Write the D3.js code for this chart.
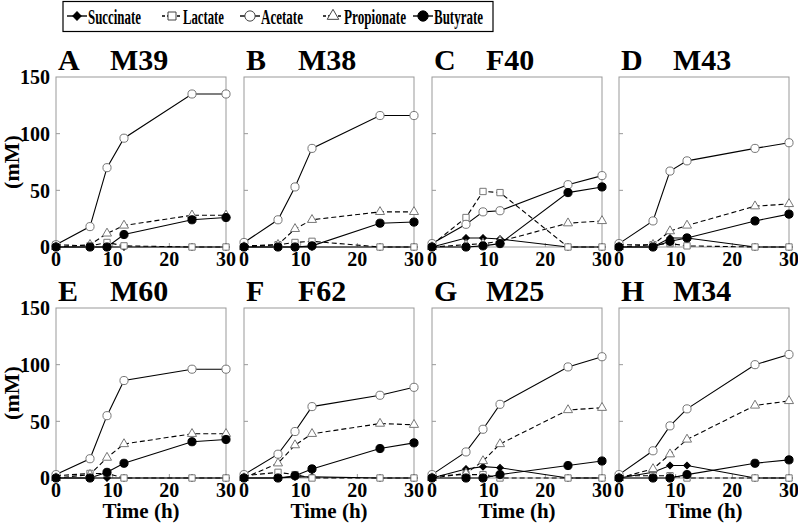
<!DOCTYPE html>
<html><head><meta charset="utf-8">
<script src="https://cdn.jsdelivr.net/npm/d3@7"></script>
<style>
body{margin:0;background:#fff;}
svg{display:block;}
text{font-family:"Liberation Serif","Times New Roman",serif;font-weight:bold;fill:#000;}
</style></head><body>
<svg id="c" width="798" height="525"></svg>
<script>
const times = [0, 6, 9, 12, 24, 30];
const panelLetters = ["A","B","C","D","E","F","G","H"];
const panelNames = ["M39","M38","F40","M43","M60","F62","M25","M34"];
const seriesNames = ["Succinate","Lactate","Acetate","Propionate","Butyrate"];
const yTicks = [0, 50, 100, 150];
const xTicks = [0, 10, 20, 30];

const succinate = [
  [0,0,0,0,0,0],[0,0,0,0,0,0],[0,8,8,7,0,0],[0,0,8,8,0,0],
  [0,0,0,0,0,0],[0,0,1,1,0,0],[0,8,10,9,0,0],[0,5,11,11,0,0]];
const lactate = [
  [2,1,4,1,0,0],[1,2,4,5,0,0],[2,26,49,48,0,0],[2,2,3,1,0,0],
  [2,4,4,0,0,0],[2,5,3,0,0,0],[2,3,3,0,0,0],[2,2,2,0,0,0]];
const acetate = [
  [2,18,70,96,135,135],[4,24,53,87,116,116],[3,20,31,32,55,63],[3,23,67,76,87,92],
  [3,17,55,86,96,96],[3,21,41,63,73,80],[3,23,43,65,98,107],[3,24,46,61,100,109]];
const propionate = [
  [0,2,12,19,28,28],[0,2,16,24,31,31],[0,2,3,5,21,23],[0,2,14,19,36,38],
  [0,3,18,30,39,39],[0,13,29,39,48,47],[0,4,15,30,60,62],[0,8,21,34,64,68]];
const butyrate = [
  [0,0,0,11,24,26],[0,0,0,1,21,22],[0,0,1,3,48,53],[0,0,5,8,23,29],
  [0,0,5,13,32,34],[0,0,2,8,26,31],[0,0,0,3,11,15],[0,0,0,3,13,16]];

const seriesData = [succinate, lactate, acetate, propionate, butyrate];
const styles = [
  {dash:null, sym:d3.symbolSquare, rot:45, size:22, fill:"#000", stroke:"#000"},
  {dash:"5,3", sym:d3.symbolSquare, rot:0, size:40, fill:"#fff", stroke:"#777"},
  {dash:null, sym:d3.symbolCircle, rot:0, size:52, fill:"#fff", stroke:"#777"},
  {dash:"5,3", sym:d3.symbolTriangle, rot:0, size:36, fill:"#fff", stroke:"#777"},
  {dash:null, sym:d3.symbolCircle, rot:0, size:52, fill:"#000", stroke:"#000"}
];

const svg = d3.select("#c");
const lefts = [56, 244, 432, 619];
const tops = [77, 308];
const W = 170, H = 170;

panelLetters.forEach((L, i) => {
  const col = i % 4, row = Math.floor(i / 4);
  const x0 = lefts[col], y0 = tops[row];
  const g = svg.append("g").attr("transform", `translate(${x0},${y0})`);
  const x = d3.scaleLinear().domain([0, 30]).range([0, W]);
  const y = d3.scaleLinear().domain([0, 150]).range([H, 0]);

  g.append("rect").attr("width", W).attr("height", H)
    .attr("fill", "none").attr("stroke", "#999").attr("stroke-width", 1);
  g.selectAll(".yt").data(yTicks.slice(1, 3)).join("line")
    .attr("x1", 0).attr("x2", 4).attr("y1", d => y(d)).attr("y2", d => y(d))
    .attr("stroke", "#999");
  g.selectAll(".xt").data(xTicks.slice(1, 3)).join("line")
    .attr("x1", d => x(d)).attr("x2", d => x(d)).attr("y1", H).attr("y2", H - 4)
    .attr("stroke", "#999");

  if (col === 0) {
    g.selectAll(".yl").data(yTicks).join("text")
      .attr("x", -6).attr("y", d => y(d)).attr("dy", "0.36em")
      .attr("text-anchor", "end").attr("font-size", 20).text(d => d);
    g.append("text").attr("transform", `translate(${-45},${H / 2}) rotate(-90)`)
      .attr("text-anchor", "middle").attr("dy", "0.35em").attr("font-size", 22).text("(mM)");
  }
  g.selectAll(".xl").data(xTicks).join("text")
    .attr("x", d => x(d)).attr("y", H + 19)
    .attr("text-anchor", "middle").attr("font-size", 20).text(d => d);
  if (row === 1) {
    g.append("text").attr("x", W / 2).attr("y", H + 40)
      .attr("text-anchor", "middle").attr("font-size", 21).text("Time (h)");
  }
  g.append("text").attr("x", 2).attr("y", -7).attr("font-size", 30).text(L);
  g.append("text").attr("x", 54).attr("y", -7).attr("font-size", 30).text(panelNames[i]);

  const line = d3.line().x((d, k) => x(times[k])).y(d => y(d));
  seriesData.forEach((s, si) => {
    const st = styles[si];
    g.append("path").attr("d", line(s[i])).attr("fill", "none")
      .attr("stroke", "#000").attr("stroke-width", 1.1)
      .attr("stroke-dasharray", st.dash);
  });
  seriesData.forEach((s, si) => {
    const st = styles[si];
    g.selectAll(null).data(s[i]).join("path")
      .attr("d", d3.symbol().type(st.sym).size(st.size))
      .attr("transform", (d, k) => `translate(${x(times[k])},${y(d)}) rotate(${st.rot})`)
      .attr("fill", st.fill).attr("stroke", st.stroke).attr("stroke-width", 1);
  });
});

// Legend
const lg = svg.append("g");
lg.append("rect").attr("x", 63).attr("y", 1.5).attr("width", 430).attr("height", 30)
  .attr("fill", "#fff").attr("stroke", "#000").attr("stroke-width", 1.2);
const legX = [67, 162, 240, 323, 413];
const legW = [53, 41, 42, 62, 49];
seriesNames.forEach((n, si) => {
  const st = styles[si];
  const sx = legX[si];
  lg.append("line").attr("x1", sx).attr("x2", sx + 20).attr("y1", 16).attr("y2", 16)
    .attr("stroke", "#000").attr("stroke-width", 1.4).attr("stroke-dasharray", st.dash ? "3,2" : null);
  lg.append("path").attr("d", d3.symbol().type(st.sym).size(st.size * 1.6))
    .attr("transform", `translate(${sx + 10},16) rotate(${st.rot})`)
    .attr("fill", st.fill).attr("stroke", st.stroke === "#777" ? "#444" : st.stroke);
  lg.append("text").attr("x", sx + 21).attr("y", 24).attr("font-size", 20)
    .attr("textLength", legW[si]).attr("lengthAdjust", "spacingAndGlyphs").text(n);
});
</script>
</body></html>
